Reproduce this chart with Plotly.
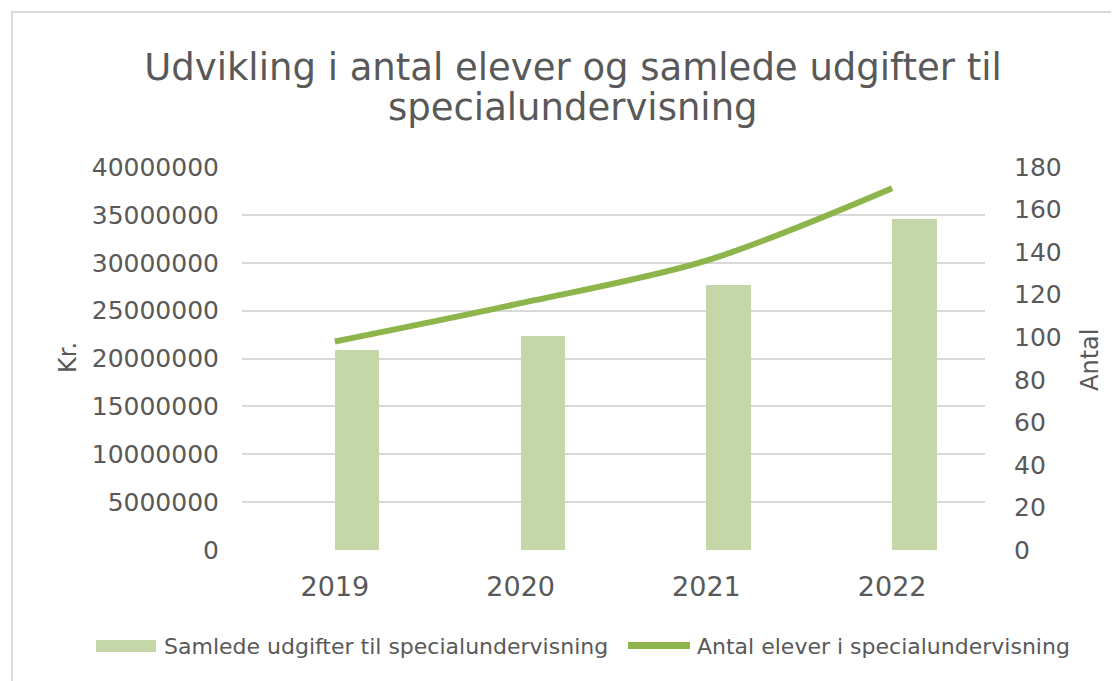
import plotly.graph_objects as go

# ---- data ----
years = ["2019", "2020", "2021", "2022"]
udgifter = [20880000, 22340000, 27640000, 34530000]   # Kr.
elever = [98, 116, 136, 170]                           # Antal

bar_name = "Samlede udgifter til specialundervisning"
line_name = "Antal elever i specialundervisning"
title_line1 = "Udvikling i antal elever og samlede udgifter til"
title_line2 = "specialundervisning"

# ---- style / layout constants ----
OFF = 8                      # page body margin in the browser
W, H = 1119 - OFF, 681 - OFF
PL, PR, PT, PB = 242 - OFF, 985 - OFF, 167 - OFF, 550 - OFF
FONT = "DejaVu Sans"
TXT = "#595959"
GRID = "#D9D9D9"
BAR_C = "#C5D6A9"
LINE_C = "#8DB54B"


def px_x(x):
    # x given in reference-page pixels
    return (x - OFF - PL) / (PR - PL)


def px_y(y):
    return (PB - (y - OFF)) / (PB - PT)


fig = go.Figure()
fig.add_trace(go.Bar(
    x=years, y=udgifter, name=bar_name,
    marker=dict(color=BAR_C, line=dict(width=0)),
    offset=0, width=0.24, yaxis="y", showlegend=False,
))
fig.add_trace(go.Scatter(
    x=years, y=elever, name=line_name, mode="lines",
    line=dict(color=LINE_C, width=6, shape="spline", smoothing=0.9),
    yaxis="y2", showlegend=False,
))

shapes = [
    # chart-area border (top and left visible)
    dict(type="rect", xref="paper", yref="paper",
         x0=px_x(12), x1=px_x(1140), y0=px_y(700), y1=px_y(12),
         line=dict(color=GRID, width=2), fillcolor="rgba(0,0,0,0)", layer="below"),
    # legend swatches
    dict(type="rect", xref="paper", yref="paper",
         x0=px_x(96), x1=px_x(156), y0=px_y(652), y1=px_y(640),
         line=dict(width=0), fillcolor=BAR_C),
    dict(type="line", xref="paper", yref="paper",
         x0=px_x(628), x1=px_x(690), y0=px_y(645.5), y1=px_y(645.5),
         line=dict(color=LINE_C, width=7)),
]

annotations = [
    dict(text=title_line2, xref="paper", yref="paper", x=px_x(573), y=px_y(107),
         xanchor="center", yanchor="middle", showarrow=False,
         font=dict(family=FONT, size=37, color=TXT)),
    dict(text="Kr.", xref="paper", yref="paper", x=px_x(68), y=px_y(358),
         xanchor="center", yanchor="middle", showarrow=False, textangle=-90,
         font=dict(family=FONT, size=24, color=TXT)),
    dict(text="Antal", xref="paper", yref="paper", x=px_x(1090), y=px_y(360),
         xanchor="center", yanchor="middle", showarrow=False, textangle=-90,
         font=dict(family=FONT, size=24, color=TXT)),
    dict(text=bar_name, xref="paper", yref="paper", x=px_x(162), y=px_y(646),
         xanchor="left", yanchor="middle", showarrow=False,
         font=dict(family=FONT, size=22, color=TXT)),
    dict(text=line_name, xref="paper", yref="paper", x=px_x(695), y=px_y(646),
         xanchor="left", yanchor="middle", showarrow=False,
         font=dict(family=FONT, size=22, color=TXT)),
]

fig.update_layout(
    width=W, height=H,
    margin=dict(l=PL, r=W - PR, t=PT, b=H - PB, autoexpand=False),
    paper_bgcolor="white", plot_bgcolor="white",
    font=dict(family=FONT, color=TXT),
    title=dict(text=title_line1, x=(573 - OFF) / W, xref="container", xanchor="center",
               y=1 - (67 - OFF) / H, yref="container", yanchor="middle",
               font=dict(family=FONT, size=37, color=TXT)),
    xaxis=dict(type="category", range=[-0.5, 3.5], showgrid=False, zeroline=False,
               showline=False, ticks="", ticklabelstandoff=18,
               tickfont=dict(family=FONT, size=27, color=TXT)),
    yaxis=dict(range=[0, 40000000], dtick=5000000, tickformat="d",
               showgrid=True, gridcolor=GRID, gridwidth=2, zeroline=False,
               showline=False, ticks="", ticklabelstandoff=22,
               tickfont=dict(family=FONT, size=25, color=TXT)),
    yaxis2=dict(range=[0, 180], dtick=20, overlaying="y", side="right",
                showgrid=False, zeroline=False, showline=False, ticks="",
                ticklabelstandoff=28,
                tickfont=dict(family=FONT, size=25, color=TXT)),
    shapes=shapes, annotations=annotations,
    bargap=0,
)

fig.write_html("out.html")
